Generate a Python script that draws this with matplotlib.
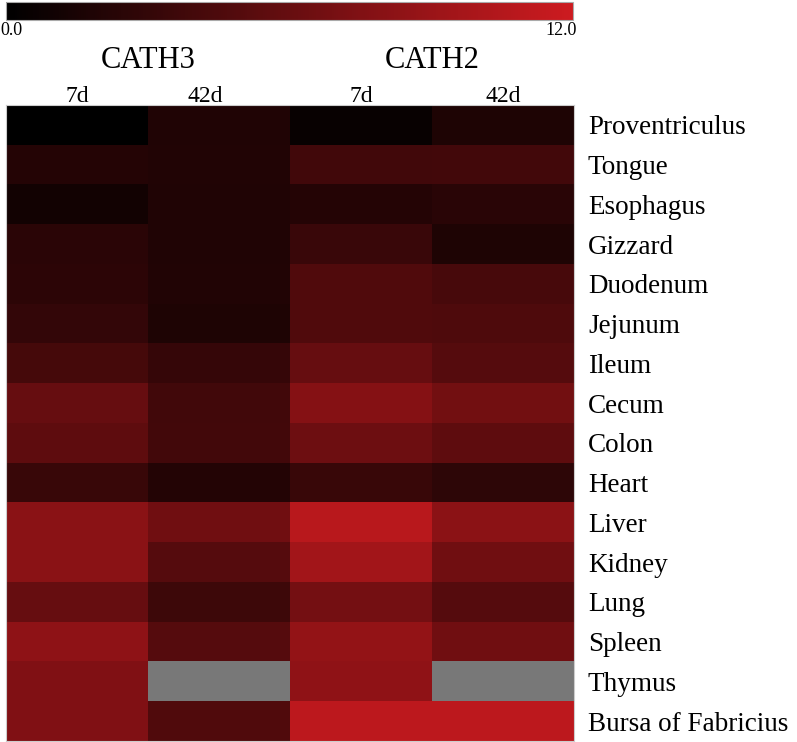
import numpy as np
import matplotlib.pyplot as plt
from matplotlib.colors import LinearSegmentedColormap

tissues = ["Proventriculus", "Tongue", "Esophagus", "Gizzard", "Duodenum",
           "Jejunum", "Ileum", "Cecum", "Colon", "Heart", "Liver", "Kidney",
           "Lung", "Spleen", "Thymus", "Bursa of Fabricius"]
genes = ["CATH3", "CATH2"]
ages = ["7d", "42d", "7d", "42d"]

# expression values (nan = not detected)
cath3_7d = [0.0, 2.2, 1.1, 2.5, 2.6, 3.0, 4.1, 6.0, 5.5, 3.3, 8.1, 8.1, 6.0, 8.3, 7.5, 7.5]
cath3_42d = [1.9, 2.0, 1.9, 1.9, 2.0, 1.8, 3.1, 3.8, 3.9, 2.1, 6.6, 5.0, 3.6, 5.0, np.nan, 4.7]
cath2_7d = [0.5, 3.8, 2.2, 3.4, 4.7, 4.7, 6.0, 7.8, 6.4, 3.3, 10.8, 9.5, 6.8, 8.6, 8.4, 11.0]
cath2_42d = [1.8, 3.9, 2.4, 1.8, 4.2, 4.6, 5.0, 6.7, 5.5, 2.7, 8.2, 6.6, 5.0, 6.6, np.nan, 11.0]

vmin, vmax = 0.0, 12.0

plt.rcParams['font.family'] = ['Liberation Serif', 'DejaVu Serif']

cmap = LinearSegmentedColormap.from_list("blackred", ["#000000", "#CD1B20"])
cmap.set_bad("#787878")

data = np.ma.masked_invalid(np.array([cath3_7d, cath3_42d, cath2_7d, cath2_42d]).T)

W, H = 797, 742
fig = plt.figure(figsize=(W / 100, H / 100), dpi=100)

# heatmap
ax = fig.add_axes([6 / W, 1 / H, 568 / W, 636 / H])
im = ax.imshow(data, cmap=cmap, vmin=vmin, vmax=vmax, aspect="auto",
               interpolation="nearest")
ax.set_xticks([])
ax.yaxis.tick_right()
ax.set_yticks(range(len(tissues)))
ax.set_yticklabels(tissues, fontsize=19.5)
ax.tick_params(axis="y", length=0, pad=10)
for s in ax.spines.values():
    s.set_color("#cccccc")
    s.set_linewidth(0.8)

age_shift = [0, -0.1, 0, 0]
for i, a in enumerate(ages):
    ax.text(i + age_shift[i], -0.58, a, ha="center", va="baseline", fontsize=17)
for j, g in enumerate(genes):
    ax.text(2 * j + 0.5, -1.43, g, ha="center", va="baseline", fontsize=22)

# colorbar
cax = fig.add_axes([6 / W, (H - 20) / H, 567 / W, 18 / H])
cb = fig.colorbar(im, cax=cax, orientation="horizontal")
cb.set_ticks([])
cb.outline.set_edgecolor("#aaaaaa")
cb.outline.set_linewidth(0.8)
fig.text(0 / W, (H - 35) / H, f"{vmin:.1f}", ha="left", va="baseline", fontsize=13)
fig.text(577 / W, (H - 35) / H, f"{vmax:.1f}", ha="right", va="baseline", fontsize=13)

fig.savefig("out.png", dpi=100)
